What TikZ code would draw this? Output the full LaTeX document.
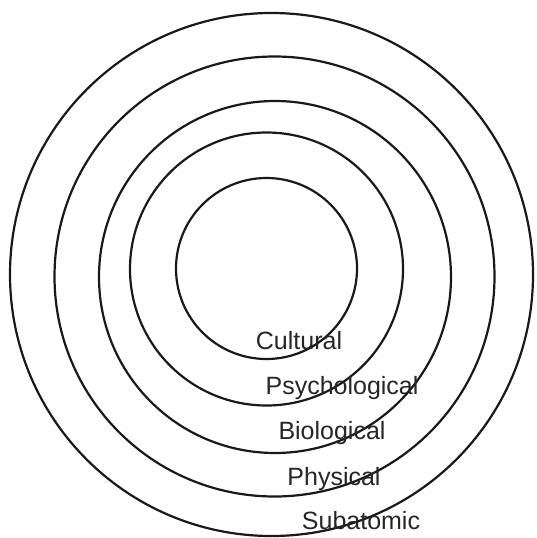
\documentclass[tikz,border=0pt]{standalone}
\usepackage{fontspec}
\setmainfont{Liberation Sans}
\usepackage{tikz}
\usetikzlibrary{positioning,calc}
\tikzset{
	ring/.style={draw=black!90, line width=2.2pt},
	ringlabel/.style={font=\fontsize{25}{28}\selectfont, text=black!85, anchor=base, inner sep=0pt}
}

\begin{document}
\begin{tikzpicture}[x=1pt, y=-1pt]
			
			%% -- Canvas
			\useasboundingbox (0,0) rectangle (537,538);
			
			%% -- Rings, outer to inner
			\draw[ring] (271.5,274.5) circle[radius=261.5];
			\draw[ring] (274.5,276.5) circle[radius=220];
			\draw[ring] (275,277) circle[radius=176];
			\draw[ring] (266.5,269) circle[radius=136.5];
			\draw[ring] (266.5,268.5) circle[radius=90.5];
			
			%% -- Level labels
			\node[ringlabel] (cult) at (299,349) {Cultural};
			\node[ringlabel] (psych) at (342,394) {Psychological};
			\node[ringlabel] (bio) at (332,439) {Biological};
			\node[ringlabel] (phys) at (334,485) {Physical};
			\node[ringlabel] (subat) at (361,529) {Subatomic};
			
		\end{tikzpicture}
\end{document}
